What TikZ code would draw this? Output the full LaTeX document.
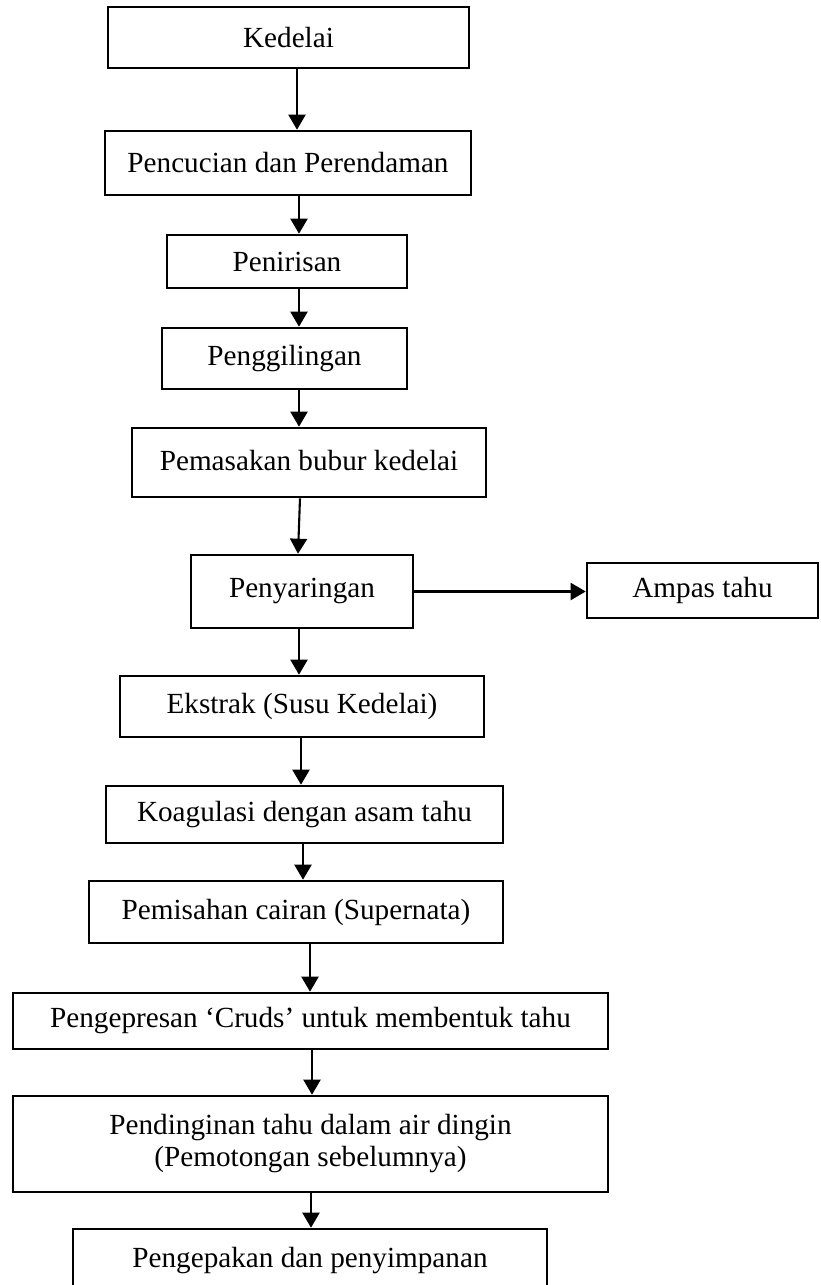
\documentclass[tikz,border=0pt]{standalone}
\usepackage{fontspec}
\setmainfont{Liberation Serif}
\usetikzlibrary{arrows.meta}

\begin{document}
\begin{tikzpicture}[x=0.5pt, y=-0.5pt, font=\fontsize{14.6}{16}\selectfont,
  kotak/.style={draw, line width=1.3pt, inner sep=0pt, align=center},
  panah/.style={-{Triangle[length=7.5pt, width=8.5pt]}, line width=1.05pt}]
  \useasboundingbox (0,0) rectangle (820,1285);
  \clip (0,0) rectangle (820,1285);
  % proses utama
  \node[kotak, minimum width=180.5pt, minimum height=30.5pt] (kedelai) at (288.5,37.5) {Kedelai};
  \node[kotak, minimum width=183pt, minimum height=32pt] (cuci) at (288,163) {Pencucian dan Perendaman};
  \node[kotak, minimum width=120pt, minimum height=26.5pt] (tiris) at (287,261.5) {Penirisan};
  \node[kotak, minimum width=122.5pt, minimum height=30.5pt] (giling) at (284.5,358.5) {Penggilingan};
  \node[kotak, minimum width=177pt, minimum height=34.5pt] (masak) at (309,462.5) {\raisebox{2.5pt}{Pemasakan bubur kedelai}};
  \node[kotak, minimum width=111pt, minimum height=36.5pt] (saring) at (302,591.5) {\raisebox{3.5pt}{Penyaringan}};
  \node[kotak, minimum width=115.5pt, minimum height=27.5pt] (ampas) at (702.5,590.5) {Ampas tahu};
  \node[kotak, minimum width=182pt, minimum height=30.5pt] (ekstrak) at (302,706.5) {Ekstrak (Susu Kedelai)};
  \node[kotak, minimum width=198.5pt, minimum height=28.5pt] (koagulasi) at (304.5,814.5) {Koagulasi dengan asam tahu};
  \node[kotak, minimum width=207pt, minimum height=31pt] (pisah) at (296,912) {Pemisahan cairan (Supernata)};
  \node[kotak, minimum width=297.5pt, minimum height=28pt] (pres) at (310.5,1021) {Pengepresan ‘Cruds’ untuk membentuk tahu};
  \node[kotak, minimum width=297.5pt, minimum height=48pt] (dingin) at (310.5,1144) {Pendinginan tahu dalam air dingin\\(Pemotongan sebelumnya)};
  \node[kotak, minimum width=237pt, minimum height=31.5pt] (kemas) at (310,1260.5) {Pengepakan dan penyimpanan};
  % panah
  \draw[panah] (kedelai.south -| 297,0) -- (cuci.north -| 297,0);
  \draw[panah] (cuci.south -| 299,0) -- (tiris.north -| 299,0);
  \draw[panah] (tiris.south -| 299,0) -- (giling.north -| 299,0);
  \draw[panah] (giling.south -| 299,0) -- (masak.north -| 299,0);
  \draw[panah] (masak.south -| 300,0) -- (saring.north -| 298,0);
  \draw[panah] (saring.east) -- (saring.east -| ampas.west);
  \draw[panah] (saring.south -| 299,0) -- (ekstrak.north -| 299,0);
  \draw[panah] (ekstrak.south -| 301,0) -- (koagulasi.north -| 301,0);
  \draw[panah] (koagulasi.south -| 303,0) -- (pisah.north -| 303,0);
  \draw[panah] (pisah.south -| 310,0) -- (pres.north -| 310,0);
  \draw[panah] (pres.south -| 312,0) -- (dingin.north -| 312,0);
  \draw[panah] (dingin.south -| 311,0) -- (kemas.north -| 311,0);
\end{tikzpicture}
\end{document}
